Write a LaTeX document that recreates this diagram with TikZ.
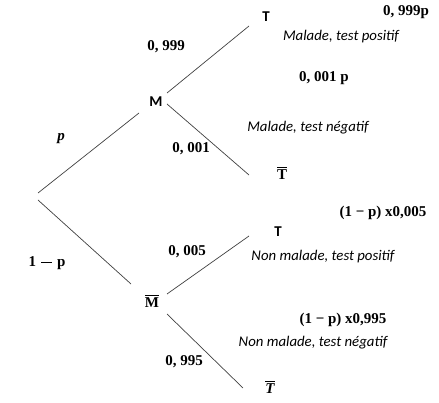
\documentclass[tikz,border=0pt]{standalone}
\usepackage{fontspec}
\setmainfont{Liberation Serif}
\newfontfamily\calib{Carlito}
\newcommand{\barred}[1]{\vbox{\hrule height 1.1pt\kern1.6pt\hbox{#1}}}
\newcommand{\wideminus}{\kern5pt\rule[0.25em]{11pt}{1.1pt}\kern5pt}
\begin{document}
\begin{tikzpicture}[x=1pt,y=-1pt,
  branch/.style={draw=black!75,line width=0.7pt},
  ev/.style={font=\calib\bfseries\fontsize{15}{17}\selectfont,inner sep=0pt},
  evs/.style={font=\bfseries\fontsize{15}{17}\selectfont,inner sep=0pt},
  prob/.style={font=\bfseries\fontsize{15}{17}\selectfont,inner sep=0pt},
  desc/.style={font=\calib\itshape\fontsize{14.8}{17}\selectfont,inner sep=0pt}]
\useasboundingbox (0,0) rectangle (439,403);
% anchor coordinates
\coordinate (r1) at (38,193);
\coordinate (r2) at (38,200);
\coordinate (m1) at (139,113);
\coordinate (m2) at (131,284);
\coordinate (ma) at (167,93);
\coordinate (mb) at (167,104);
\coordinate (na) at (167,294);
\coordinate (nb) at (167,314);
\coordinate (t1) at (249,26);
\coordinate (t2) at (249,175);
\coordinate (t3) at (249,236);
\coordinate (t4) at (243,388);
% events
\node[ev] (M) at (156,102) {M};
\node[evs] (Mb) at (152,301) {\barred{M}};
\node[ev] (T1) at (266,17) {T};
\node[evs] (T2) at (282,173) {\barred{T}};
\node[ev] (T3) at (278,232) {T};
\node[evs] (T4) at (270,387) {\barred{\itshape T}};
% branches
\draw[branch] (r1) -- (m1);
\draw[branch] (r2) -- (m2);
\draw[branch] (ma) -- (t1);
\draw[branch] (mb) -- (t2);
\draw[branch] (na) -- (t3);
\draw[branch] (nb) -- (t4);
% probabilities
\node[prob] (p1) at (166,47) {0, 999};
\node[prob] (p2) at (61,139) {\itshape p};
\node[prob] (p3) at (191,149) {0, 001};
\node[prob] (p4) at (47,263) {1\wideminus p};
\node[prob] (p5) at (187,252) {0, 005};
\node[prob] (p6) at (184,362) {0, 995};
% results
\node[prob] (r01) at (406,12) {0, 999p};
\node[desc] (d1) at (341,37) {Malade, test positif};
\node[prob] (r02) at (324,78) {0, 001 p};
\node[desc] (d2) at (308,128) {Malade, test négatif};
\node[prob] (r03) at (383,213) {(1 − p) x0,005};
\node[desc] (d3) at (323,257) {Non malade, test positif};
\node[prob] (r04) at (343,320) {(1 − p) x0,995};
\node[desc] (d4) at (313,343) {Non malade, test négatif};
\end{tikzpicture}
\end{document}
